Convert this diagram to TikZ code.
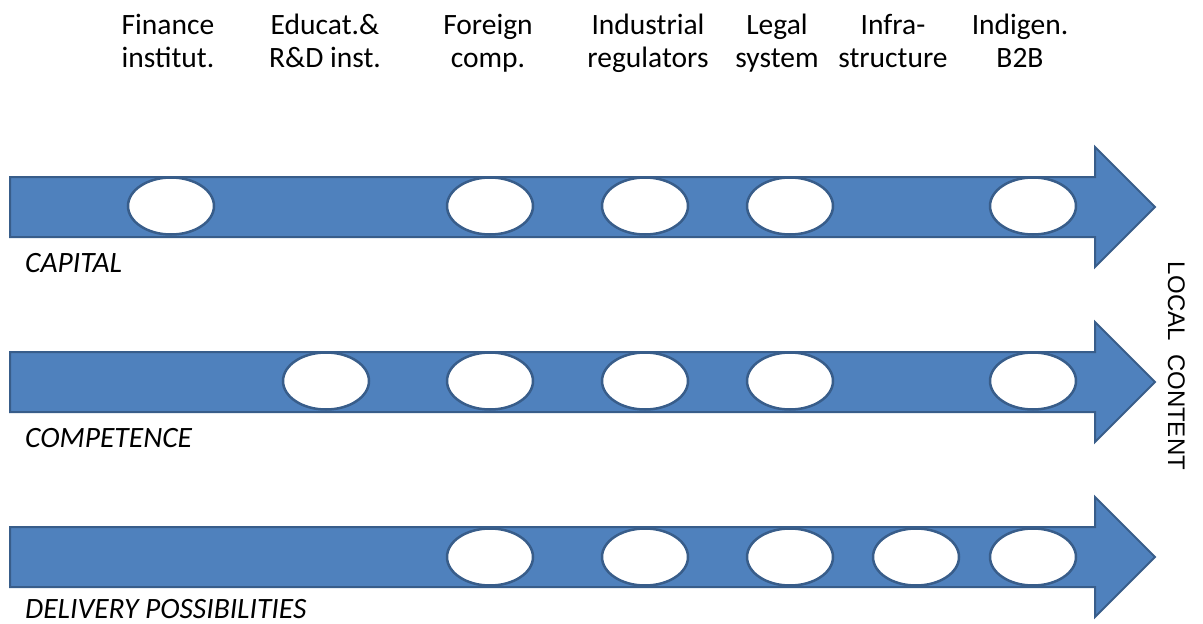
\documentclass[tikz,border=0pt]{standalone}
\usepackage{fontspec}
\setmainfont{Carlito}
\newfontfamily\arialfont{Liberation Sans}
\usetikzlibrary{shapes.geometric}
\definecolor{arrowfill}{HTML}{4F81BD}
\definecolor{arrowline}{HTML}{385D8A}
\begin{document}
\begin{tikzpicture}[x=1pt,y=-1pt,
  flow/.style={fill=arrowfill,draw=arrowline,line width=2pt,line join=miter},
  stop/.style={ellipse,fill=white,draw=arrowline,line width=2.5pt,
    minimum width=86pt,minimum height=57pt,inner sep=0pt},
  actor/.style={anchor=base,align=center,inner sep=0pt,
    font=\fontsize{29.5}{33}\selectfont},
  stream/.style={anchor=base west,inner sep=0pt,
    font=\fontsize{29.5}{33}\selectfont\itshape}]
\useasboundingbox (0,0) rectangle (1203,624);

% column labels (anchored on the baseline of the second line)
\node[actor] (fin) at (168,67) {Finance\\institut.};
\node[actor] (edu) at (325,67) {Educat.\&\\R\&D inst.};
\node[actor] (for) at (488,67) {Foreign\\comp.};
\node[actor] (ind) at (648,67) {Industrial\\regulators};
\node[actor] (leg) at (777,67) {Legal\\system};
\node[actor] (inf) at (893,67) {Infra-\\structure};
\node[actor] (b2b) at (1020,67) {Indigen.\\B2B};

% three block arrows, centred at y = 207, 382, 557
\foreach \cy in {207,382,557}{
  \draw[flow] (10,\cy-30) -- (1095,\cy-30) -- (1095,\cy-60) -- (1155,\cy)
    -- (1095,\cy+60) -- (1095,\cy+30) -- (10,\cy+30) -- cycle;
}

% capital
\node[stop] (c1) at (171,206) {};
\node[stop] (c3) at (490,206) {};
\node[stop] (c4) at (645,206) {};
\node[stop] (c5) at (790,206) {};
\node[stop] (c7) at (1033,206) {};
% competence
\node[stop] (k2) at (326,381) {};
\node[stop] (k3) at (490,381) {};
\node[stop] (k4) at (645,381) {};
\node[stop] (k5) at (790,381) {};
\node[stop] (k7) at (1033,381) {};
% delivery possibilities
\node[stop] (d3) at (490,557) {};
\node[stop] (d4) at (645,557) {};
\node[stop] (d5) at (790,557) {};
\node[stop] (d6) at (916,557) {};
\node[stop] (d7) at (1033,557) {};

\node[stream] (cap) at (25,272) {CAPITAL};
\node[stream] (com) at (25,447) {COMPETENCE};
\node[stream] (del) at (25,618) {DELIVERY POSSIBILITIES};

\node[anchor=base,rotate=-90,inner sep=0pt,font=\arialfont\fontsize{24}{28}\selectfont]
  (lc) at (1168,366) {LOCAL\ \ CONTENT};
\end{tikzpicture}
\end{document}
